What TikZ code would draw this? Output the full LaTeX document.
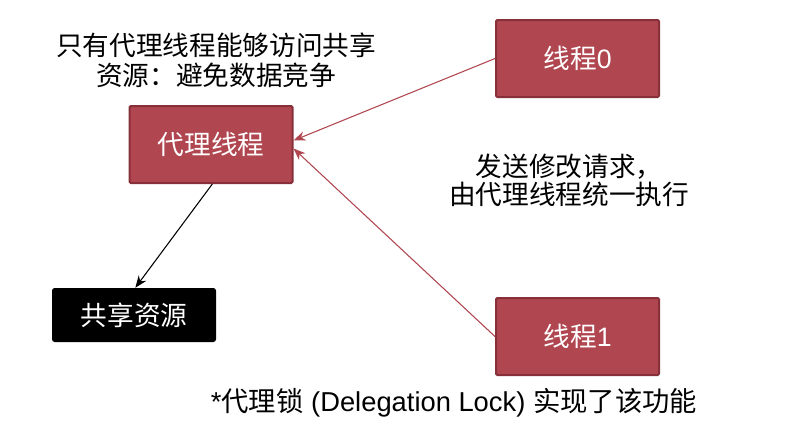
\documentclass[tikz,border=0pt]{standalone}
\usepackage{fontspec}
\setmainfont{Liberation Sans}
\newfontfamily\cjk{Noto Sans CJK SC}
\usetikzlibrary{arrows.meta,positioning}
\definecolor{Brick}{HTML}{B0464F}
\definecolor{BrickDark}{HTML}{88303A}

\begin{document}
\begin{tikzpicture}[x=0.75pt,y=-0.75pt,
  thbox/.style={fill=Brick,draw=BrickDark,line width=1.5pt,minimum width=163*0.75pt,minimum height=77*0.75pt,text=white,font=\fontsize{20}{22}\selectfont\cjk,rounded corners=1pt},
  resbox/.style={fill=black,minimum width=164*0.75pt,minimum height=54*0.75pt,text=white,font=\fontsize{20}{22}\selectfont\cjk,rounded corners=2pt},
  lbl/.style={align=center,font=\fontsize{20}{22.5}\selectfont\cjk},
  link/.style={line width=0.8pt,-{Stealth[length=9pt,width=7pt]}}]
\useasboundingbox (0,0) rectangle (806,436);
\node[thbox] (proxy) at (211,144.5) {代理线程};
\node[thbox] (t0) at (577.5,58.5) {线程{\fontspec{Liberation Sans}0}};
\node[thbox] (t1) at (577.5,336.5) {线程{\fontspec{Liberation Sans}1}};
\node[resbox] (res) at (134,315) {共享资源};
\node[lbl] (note) at (216,60) {只有代理线程能够访问共享\\资源：避免数据竞争};
\node[lbl,font=\fontsize{20}{21}\selectfont\cjk] (req) at (569,180) {发送修改请求，\\由代理线程统一执行};
\node[font=\fontsize{20.5}{22}\selectfont] (foot) at (454,403) {*{\cjk 代理锁} (Delegation Lock) {\cjk 实现了该功能}};
% connectors
\draw[link,Brick] (t0.west) -- ([yshift=3pt]proxy.east);
\draw[link,Brick] (t1.west) -- ([yshift=-3pt]proxy.east);
\draw[link] ([xshift=1pt]proxy.south) -- ([xshift=1pt]res.north);
\end{tikzpicture}
\end{document}
